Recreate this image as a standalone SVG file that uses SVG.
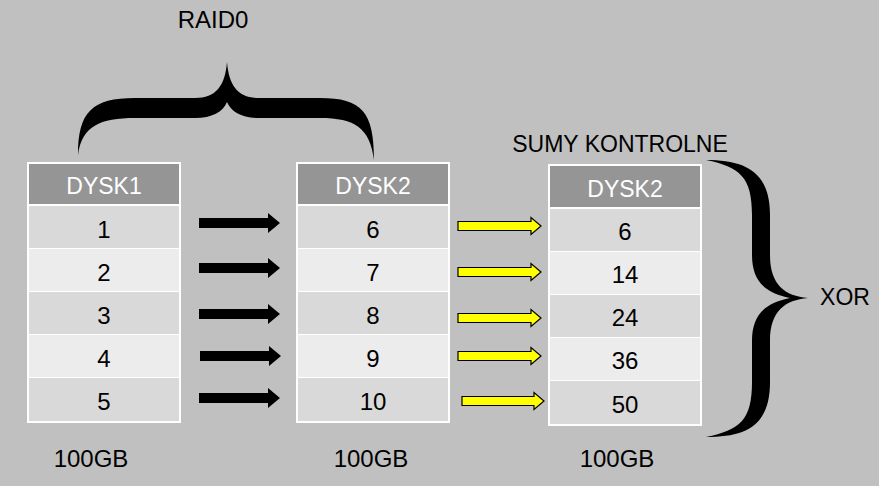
<svg xmlns="http://www.w3.org/2000/svg" width="879" height="486" viewBox="0 0 879 486">
<style>
.t{font-family:"Liberation Sans",Arial,sans-serif;font-size:24px;fill:#000;text-anchor:middle}
.h{font-family:"Liberation Sans",Arial,sans-serif;font-size:23px;fill:#fff;text-anchor:middle}
.lbl{font-family:"Liberation Sans",Arial,sans-serif;font-size:23px;fill:#000}
.frame{fill:#fff}
.hd{fill:#959595}
.ra{fill:#d9d9d9}
.rb{fill:#ececec}
.ba{fill:#000}
.ya{fill:#ffff00;stroke:#000;stroke-width:1.2}
</style>
<rect width="879" height="486" fill="#c0c0c0"/>

<g id="raid0-label"><text class="lbl" x="213" y="28" text-anchor="middle" style="font-size:24px">RAID0</text></g>
<g id="raid0-brace"><path class="ba" d="M78,155 C78,112 92,98 135,98 L195,98 C216,98 225,86 227,62 C229,86 238,98 259,98 L320,98 C362,98 374,112 374,160 C370,128 355,118 320,118 L259,118 C242,118 231,112 227,102 C223,112 212,118 195,118 L135,118 C100,118 82,126 78,155 Z"/></g>

<g id="disk1">
<rect class="frame" x="27" y="162" width="154" height="261"/>
<rect class="hd" x="29" y="164" width="150" height="40"/>
<rect class="ra" x="29" y="206" width="150" height="42"/>
<rect class="rb" x="29" y="249" width="150" height="42"/>
<rect class="ra" x="29" y="292" width="150" height="42"/>
<rect class="rb" x="29" y="335" width="150" height="42"/>
<rect class="ra" x="29" y="378" width="150" height="43"/>
<text class="h" x="104" y="194">DYSK1</text>
<text class="t" x="104" y="238">1</text>
<text class="t" x="104" y="281">2</text>
<text class="t" x="104" y="324">3</text>
<text class="t" x="104" y="367">4</text>
<text class="t" x="104" y="410">5</text>
<text class="t" x="91" y="467">100GB</text>
</g>

<g id="disk2">
<rect class="frame" x="296" y="162" width="154" height="261"/>
<rect class="hd" x="298" y="164" width="150" height="40"/>
<rect class="ra" x="298" y="206" width="150" height="42"/>
<rect class="rb" x="298" y="249" width="150" height="42"/>
<rect class="ra" x="298" y="292" width="150" height="42"/>
<rect class="rb" x="298" y="335" width="150" height="42"/>
<rect class="ra" x="298" y="378" width="150" height="43"/>
<text class="h" x="373" y="194">DYSK2</text>
<text class="t" x="373" y="238">6</text>
<text class="t" x="373" y="281">7</text>
<text class="t" x="373" y="324">8</text>
<text class="t" x="373" y="367">9</text>
<text class="t" x="373" y="410">10</text>
<text class="t" x="371" y="467">100GB</text>
</g>

<g id="checksum-label"><text class="lbl" x="620" y="152" text-anchor="middle">SUMY KONTROLNE</text></g>

<g id="disk2-checksums">
<rect class="frame" x="548" y="164" width="154" height="262"/>
<rect class="hd" x="550" y="166" width="150" height="41"/>
<rect class="ra" x="550" y="209" width="150" height="42"/>
<rect class="rb" x="550" y="252" width="150" height="42"/>
<rect class="ra" x="550" y="295" width="150" height="42"/>
<rect class="rb" x="550" y="338" width="150" height="42"/>
<rect class="ra" x="550" y="381" width="150" height="43"/>
<text class="h" x="625" y="197">DYSK2</text>
<text class="t" x="625" y="240">6</text>
<text class="t" x="625" y="283">14</text>
<text class="t" x="625" y="326">24</text>
<text class="t" x="625" y="369">36</text>
<text class="t" x="625" y="413">50</text>
<text class="t" x="617" y="467">100GB</text>
</g>

<g id="xor-brace"><path class="ba" d="M706,160 C746,160 770,172 770,215 L770,255 C770,285 785,296 808,298 C785,300 770,311 770,341 L770,382 C770,426 746,437 706,437 C740,430 752,420 752,382 L752,341 C752,315 765,303 790,298 C765,293 752,281 752,255 L752,215 C752,177 740,167 706,160 Z"/></g>
<g id="xor-label"><text class="lbl" x="845" y="305" text-anchor="middle">XOR</text></g>

<g id="connectors">
<polygon class="ba" points="199,218 268,218 268,213 280,223 268,233 268,228 199,228"/>
<polygon class="ba" points="199,263 268,263 268,258 280,268 268,278 268,273 199,273"/>
<polygon class="ba" points="199,309 268,309 268,304 280,314 268,324 268,319 199,319"/>
<polygon class="ba" points="200,351 269,351 269,346 281,356 269,366 269,361 200,361"/>
<polygon class="ba" points="199,393 268,393 268,388 280,398 268,408 268,403 199,403"/>
<polygon class="ya" points="458,221.5 531,221.5 531,217.5 541,226 531,234.5 531,230.5 458,230.5"/>
<polygon class="ya" points="458,267.5 531,267.5 531,263.5 541,272 531,280.5 531,276.5 458,276.5"/>
<polygon class="ya" points="458,313.5 531,313.5 531,309.5 541,318 531,326.5 531,322.5 458,322.5"/>
<polygon class="ya" points="458,351.5 531,351.5 531,347.5 541,356 531,364.5 531,360.5 458,360.5"/>
<polygon class="ya" points="462,396.5 534,396.5 534,392.5 544,401 534,409.5 534,405.5 462,405.5"/>
</g>
</svg>
